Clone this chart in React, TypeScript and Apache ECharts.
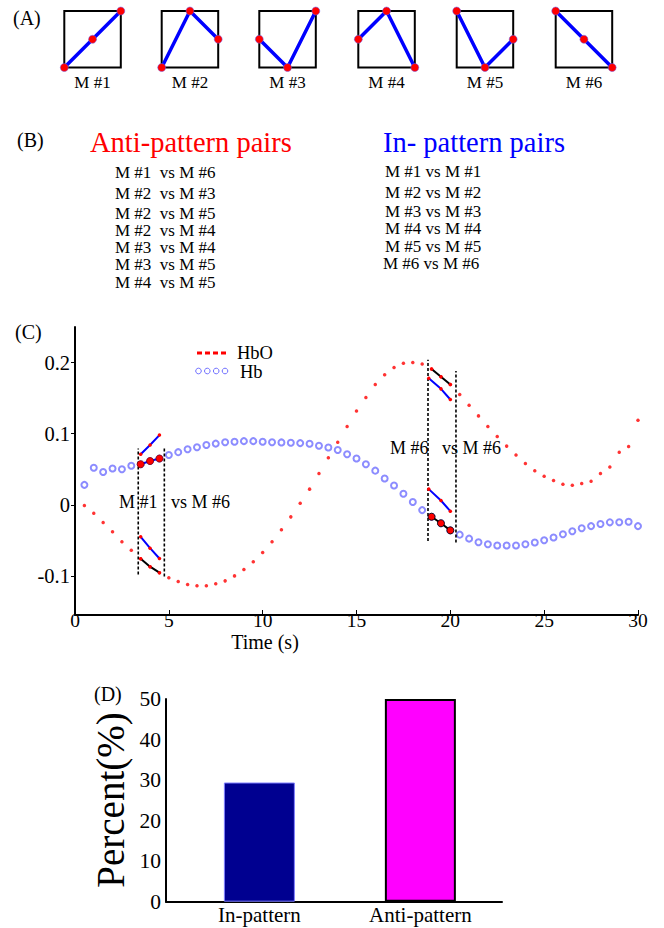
import React, { useEffect, useRef } from "react";
import * as echarts from "echarts";

const FONT = "'Liberation Serif', 'Times New Roman', serif";

// ---------- Panel A: movement patterns ----------
const patternNames = ["M #1", "M #2", "M #3", "M #4", "M #5", "M #6"];
const patternX = [0, 0.5, 1];
const patternY = [
  [0, 0.5, 1],
  [0, 1, 0.5],
  [0.5, 0, 1],
  [0.5, 1, 0],
  [1, 0, 0.5],
  [1, 0.5, 0],
];

// ---------- Panel B: pairs ----------
const antiPairs = [
  "M #1  vs M #6",
  "M #2  vs M #3",
  "M #2  vs M #5",
  "M #2  vs M #4",
  "M #3  vs M #4",
  "M #3  vs M #5",
  "M #4  vs M #5",
];
const inPairs = [
  "M #1 vs M #1",
  "M #2 vs M #2",
  "M #3 vs M #3",
  "M #4 vs M #4",
  "M #5 vs M #5",
  "M #6 vs M #6",
];

// ---------- Panel C: time series ----------
const timeS = [
  0.5, 1, 1.5, 2, 2.5, 3, 3.5, 4, 4.5, 5, 5.5, 6, 6.5, 7, 7.5, 8, 8.5, 9, 9.5, 10,
  10.5, 11, 11.5, 12, 12.5, 13, 13.5, 14, 14.5, 15, 15.5, 16, 16.5, 17, 17.5, 18, 18.5, 19, 19.5, 20,
  20.5, 21, 21.5, 22, 22.5, 23, 23.5, 24, 24.5, 25, 25.5, 26, 26.5, 27, 27.5, 28, 28.5, 29, 29.5, 30,
];
const hbo = [
  -0.001, -0.012, -0.025, -0.038, -0.052, -0.064, -0.076, -0.087, -0.0955, -0.1025,
  -0.108, -0.112, -0.114, -0.114, -0.111, -0.107, -0.1, -0.091, -0.08, -0.067,
  -0.052, -0.035, -0.017, 0.002, 0.022, 0.044, 0.066, 0.088, 0.11, 0.132,
  0.151, 0.169, 0.183, 0.193, 0.199, 0.2, 0.198, 0.191, 0.18, 0.169,
  0.155, 0.14, 0.125, 0.11, 0.096, 0.0825, 0.07, 0.058, 0.048, 0.04,
  0.034, 0.029, 0.0275, 0.03, 0.033, 0.044, 0.053, 0.074, 0.082, 0.119,
];
const hb = [
  0.028, 0.052, 0.046, 0.051, 0.05, 0.055, 0.057, 0.0615, 0.065, 0.07,
  0.074, 0.078, 0.081, 0.084, 0.086, 0.088, 0.0886, 0.0895, 0.0895, 0.0886,
  0.088, 0.0877, 0.0872, 0.0867, 0.0858, 0.083, 0.0806, 0.077, 0.071, 0.065,
  0.057, 0.048, 0.037, 0.027, 0.0154, 0.004, -0.0075, -0.0168, -0.026, -0.036,
  -0.042, -0.0476, -0.0527, -0.0555, -0.0573, -0.0573, -0.0573, -0.0555, -0.053, -0.05,
  -0.046, -0.0415, -0.0373, -0.033, -0.03, -0.027, -0.0247, -0.0245, -0.0238, -0.03,
];

// window 1 (M #1 vs M #6)
const win1Times = [3.5, 4, 4.5];
const win1TemplateUp = [0.071, 0.084, 0.098];
const win1Hb = [0.057, 0.0615, 0.065];
const win1TemplateDown = [-0.045, -0.061, -0.0755];
const win1HbO = [-0.076, -0.087, -0.0955];
const win1DashT = [3.37, 4.76];
const win1DashLo = [-0.098, -0.101];
const win1DashHi = [0.079, 0.082];

// window 2 (M #6 vs M #6)
const win2DataTimes = [19, 19.5, 20];
const win2TemplTimes = [18.85, 19.5, 20];
const win2HbO = [0.191, 0.18, 0.169];
const win2TemplateHigh = [0.178, 0.163, 0.148];
const win2TemplateLow = [0.022, 0.006, -0.009];
const win2Hb = [-0.0168, -0.026, -0.036];
const win2DashT = [18.81, 20.3];
const win2DashLo = [-0.051, -0.053];
const win2DashHi = [0.204, 0.188];

const yTicksC = [-0.1, 0, 0.1, 0.2];

// ---------- Panel D: bars ----------
const barCats = ["In-pattern", "Anti-pattern"];
const barPos = [1, 2];
const barVals = [29.4, 50];

const zip = (xs: number[], ys: number[]) => xs.map((x, i) => [x, ys[i]]);

function buildOption() {
  const grids: any[] = [];
  const xAxes: any[] = [];
  const yAxes: any[] = [];
  const series: any[] = [];
  const graphic: any[] = [];

  // Panel A
  const aLefts = [64.3, 161.7, 259.3, 358.3, 456.7, 555.7];
  patternNames.forEach((name, i) => {
    grids.push({
      left: aLefts[i], top: 11, width: 56.5, height: 56.5,
      show: true, borderColor: "#000", borderWidth: 2, backgroundColor: "transparent",
    });
    xAxes.push({
      gridIndex: i, type: "value", min: 0, max: 1, show: true,
      name, nameLocation: "middle", nameGap: 6,
      nameTextStyle: { fontFamily: FONT, fontSize: 17, color: "#000" },
      axisLine: { show: false }, axisTick: { show: false }, axisLabel: { show: false }, splitLine: { show: false },
    });
    yAxes.push({
      gridIndex: i, type: "value", min: 0, max: 1, show: false,
      splitLine: { show: false },
    });
    series.push({
      type: "line", xAxisIndex: i, yAxisIndex: i, clip: false,
      data: zip(patternX, patternY[i]),
      lineStyle: { color: "#0000ff", width: 3.5 },
      symbol: "circle", symbolSize: 8,
      itemStyle: { color: "#ff0000", borderColor: "#6060ff", borderWidth: 0.5 },
      z: 3,
    });
  });

  // Panel C grid
  const gC = 6;
  grids.push({ left: 75, top: 327, width: 563, height: 288 });
  xAxes.push({
    gridIndex: gC, type: "value", min: 0, max: 30, interval: 5,
    axisLine: { show: true, onZero: false, lineStyle: { color: "#000", width: 2 } },
    axisTick: { show: true, inside: true, length: 5, lineStyle: { color: "#000", width: 1 } },
    axisLabel: { fontFamily: FONT, fontSize: 19.5, color: "#000", margin: -4.5 },
    splitLine: { show: false },
  });
  yAxes.push({
    gridIndex: gC, type: "value", min: -0.155, max: 0.25,
    axisLine: { show: true, onZero: false, lineStyle: { color: "#000", width: 2 } },
    axisTick: { show: true, inside: false, length: 4, customValues: yTicksC, lineStyle: { color: "#000", width: 1 } },
    axisLabel: {
      customValues: yTicksC, fontFamily: FONT, fontSize: 20.5, color: "#000", margin: 5,
      formatter: (v: number) => String(Math.round(v * 100) / 100),
    },
    splitLine: { show: false },
  });

  const cAx = { xAxisIndex: gC, yAxisIndex: gC };
  series.push({
    ...cAx, type: "scatter", name: "Hb", data: zip(timeS, hb),
    symbol: "emptyCircle", symbolSize: 6,
    itemStyle: { color: "#6f6fff", borderColor: "#6f6fff", borderWidth: 1 }, z: 2,
  });
  series.push({
    ...cAx, type: "scatter", name: "HbO", data: zip(timeS, hbo),
    symbol: "circle", symbolSize: 3.5,
    itemStyle: { color: "#ff0000" }, z: 3,
  });

  const seg = (xs: number[], ys: number[], lineColor: string, big: boolean, edge: string) => ({
    ...cAx, type: "line", data: zip(xs, ys), clip: false,
    lineStyle: { color: lineColor, width: 2 },
    symbol: "circle", symbolSize: big ? 7 : 3.5, showSymbol: true,
    itemStyle: { color: "#ff0000", borderColor: edge, borderWidth: big ? 0.8 : 0 },
    z: 5,
  });
  const dash = (t: number, lo: number, hi: number) => ({
    ...cAx, type: "line", data: [[t, lo], [t, hi]], clip: false,
    lineStyle: { color: "#000", width: 1.6, type: [3, 2] },
    symbol: "none", z: 4,
  });

  series.push(seg(win1Times, win1TemplateUp, "#0000ff", false, "#ff0000"));
  series.push(seg(win1Times, win1Hb, "#0000ff", true, "#880000"));
  series.push(seg(win1Times, win1TemplateDown, "#0000ff", false, "#ff0000"));
  series.push(seg(win1Times, win1HbO, "#000000", false, "#ff0000"));
  series.push(dash(win1DashT[0], win1DashLo[0], win1DashHi[0]));
  series.push(dash(win1DashT[1], win1DashLo[1], win1DashHi[1]));

  series.push(seg(win2DataTimes, win2HbO, "#000000", false, "#ff0000"));
  series.push(seg(win2TemplTimes, win2TemplateHigh, "#0000ff", false, "#ff0000"));
  series.push(seg(win2TemplTimes, win2TemplateLow, "#0000ff", false, "#ff0000"));
  series.push(seg(win2DataTimes, win2Hb, "#000000", true, "#000000"));
  series.push(dash(win2DashT[0], win2DashLo[0], win2DashHi[0]));
  series.push(dash(win2DashT[1], win2DashLo[1], win2DashHi[1]));

  // Panel D grid
  const gD = 7;
  grids.push({ left: 166, top: 699, width: 336, height: 202.7 });
  xAxes.push({
    gridIndex: gD, type: "value", min: 0.42, max: 2.507,
    axisLine: { show: true, onZero: false, lineStyle: { color: "#000", width: 2 } },
    axisTick: { show: false },
    axisLabel: {
      customValues: barPos, fontFamily: FONT, fontSize: 21, color: "#000", margin: 3,
      formatter: (v: number) => barCats[Math.round(v) - 1],
    },
    splitLine: { show: false },
  });
  yAxes.push({
    gridIndex: gD, type: "value", min: 0, max: 50, interval: 10,
    axisLine: { show: true, onZero: false, lineStyle: { color: "#000", width: 2 } },
    axisTick: { show: false },
    axisLabel: { fontFamily: FONT, fontSize: 21.5, color: "#000", margin: 5 },
    splitLine: { show: false },
  });
  const barColors = ["#000090", "#ff00ff"];
  const barEdges = ["#8080ff", "#000000"];
  series.push({
    type: "bar", xAxisIndex: gD, yAxisIndex: gD, barWidth: 71,
    data: barVals.map((v, i) => ({
      value: [barPos[i], v],
      itemStyle: { color: barColors[i], borderColor: barEdges[i], borderWidth: i === 1 ? 2 : 1 },
    })),
    z: 2,
  });

  // ---------- texts ----------
  const t = (text: string, x: number, y: number, size: number, extra: any = {}) => ({
    type: "text", x, y, z: 10,
    style: { text, fontFamily: FONT, fontSize: size, fill: "#000", verticalAlign: "middle", align: "left", ...extra },
  });
  graphic.push(t("(A)", 13, 18, 20));
  graphic.push(t("(B)", 17, 140, 20));
  graphic.push(t("(C)", 15, 332, 20));
  graphic.push(t("(D)", 94, 694, 20));

  graphic.push(t("Anti-pattern pairs", 90, 142, 28.5, { fill: "#ff0000" }));
  graphic.push(t("In- pattern pairs", 383, 142, 28.5, { fill: "#0000ff" }));
  const antiY = [172.7, 193.3, 213.3, 230.5, 247.7, 264.9, 282.1];
  antiPairs.forEach((s, i) => graphic.push(t(s, 115, antiY[i], 17)));
  const inY = [171.7, 192.5, 211.5, 228.7, 246, 263.2];
  inPairs.forEach((s, i) => graphic.push(t(s, i === 5 ? 383 : 385, inY[i], 17)));

  // legend of panel C
  graphic.push({
    type: "line", z: 10,
    shape: { x1: 197, y1: 353, x2: 227, y2: 353 },
    style: { stroke: "#ff0000", lineWidth: 3, lineDash: [5, 3] },
  });
  graphic.push(t("HbO", 237, 352.5, 18.5));
  [198.5, 207.3, 216.2, 225].forEach((cx) =>
    graphic.push({
      type: "circle", z: 10,
      shape: { cx, cy: 371, r: 2.8 },
      style: { fill: "none", stroke: "#6f6fff", lineWidth: 1 },
    })
  );
  graphic.push(t("Hb", 240, 371.5, 18.5));

  // annotations
  graphic.push(t("M #1   vs M #6", 119, 502, 18));
  graphic.push(t("M #6   vs M #6", 390, 448, 18));

  graphic.push(t("Time (s)", 265, 641.5, 20, { align: "center" }));
  graphic.push({
    type: "text", x: 110, y: 800, rotation: Math.PI / 2, z: 10,
    style: { text: "Percent(%)", fontFamily: FONT, fontSize: 39, fill: "#000", align: "center", verticalAlign: "middle" },
  });

  return {
    animation: false,
    backgroundColor: "#fff",
    textStyle: { fontFamily: FONT },
    grid: grids,
    xAxis: xAxes,
    yAxis: yAxes,
    series,
    graphic,
  };
}

export default function App() {
  const ref = useRef<HTMLDivElement>(null);
  useEffect(() => {
    if (!ref.current) return;
    const chart = echarts.init(ref.current, undefined, { renderer: "svg", width: 664, height: 928 });
    chart.setOption(buildOption() as any);
    return () => chart.dispose();
  }, []);
  return (
    <div
      ref={ref}
      style={{ position: "fixed", left: 0, top: 0, width: 664, height: 928, background: "#fff" }}
    />
  );
}
